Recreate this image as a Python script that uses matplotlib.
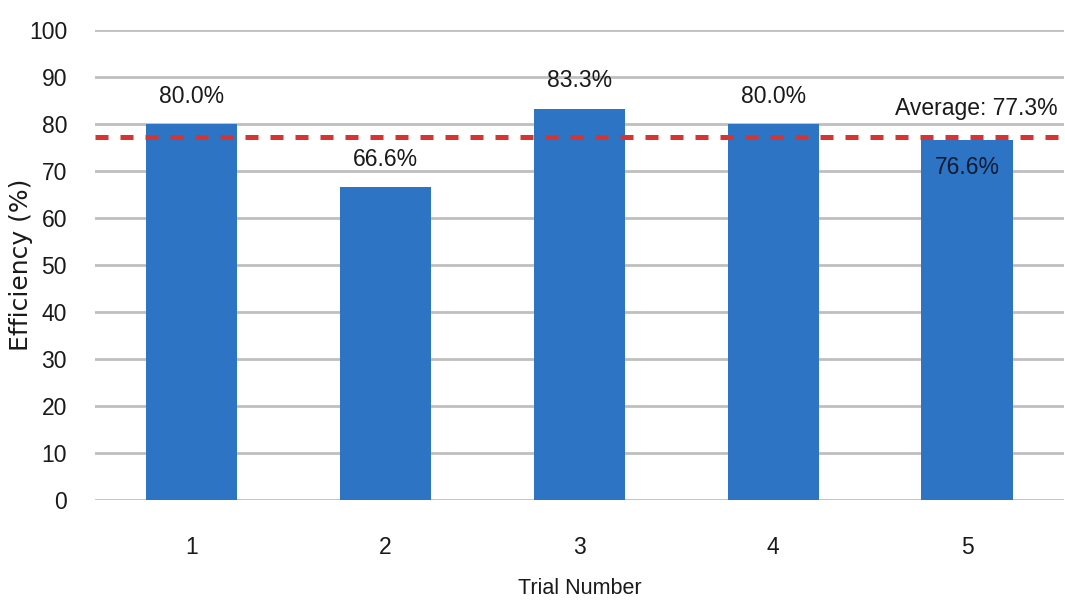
import numpy as np
import matplotlib.pyplot as plt

# data
trials = [1, 2, 3, 4, 5]
efficiency = [80.0, 66.6, 83.3, 80.0, 76.6]
bar_labels = ['80.0%', '66.6%', '83.3%', '80.0%', '76.6%']
average = 77.3

plt.rcParams['font.family'] = ['Liberation Sans', 'DejaVu Sans']

fig = plt.figure(figsize=(10.65, 6.03), dpi=100)
ax = fig.add_axes([0.089, 0.171, 0.910, 0.779])

bar_col = '#2E74C4'
ax.bar(trials, efficiency, width=0.47, color=bar_col, zorder=3)

# average line
ax.axhline(average, color='#D63333', lw=3.6, dashes=(2.6, 2.4), zorder=4)
ax.text(5.47, 80.8, 'Average: %.1f%%' % average, ha='right', va='bottom',
        fontsize=16.5, color='#1a1a1a', zorder=5)

# value labels (last one sits inside the bar)
for x, v, lab in zip(trials, efficiency, bar_labels):
    if x == 5:
        ax.text(x, v - 3.3, lab, ha='center', va='top', fontsize=16.5,
                color='#0d1a33', zorder=5)
    else:
        ax.text(x, v + 3.5, lab, ha='center', va='bottom', fontsize=16.5,
                color='#1a1a1a', zorder=5)

ax.set_xlim(0.5, 5.5)
ax.set_ylim(0, 100)
ax.set_yticks(np.arange(0, 101, 10))
ax.set_xticks(trials)
ax.yaxis.grid(True, color='#BFBFBF', lw=2, zorder=0)
ax.tick_params(axis='both', length=0, labelsize=16.5, colors='#1a1a1a')
ax.tick_params(axis='y', pad=20)
ax.tick_params(axis='x', pad=26)
for s in ax.spines.values():
    s.set_visible(False)

ax.set_xlabel('Trial Number', fontsize=15.5, color='#1a1a1a', labelpad=14)
# y label placed by hand so it stays inside the figure
fig.text(21/1065, 1 - 265/603, 'Efficiency (%)', rotation=90, ha='center',
         va='center', fontsize=18, color='#1a1a1a', family='DejaVu Sans')

fig.savefig('out.png', dpi=100)
